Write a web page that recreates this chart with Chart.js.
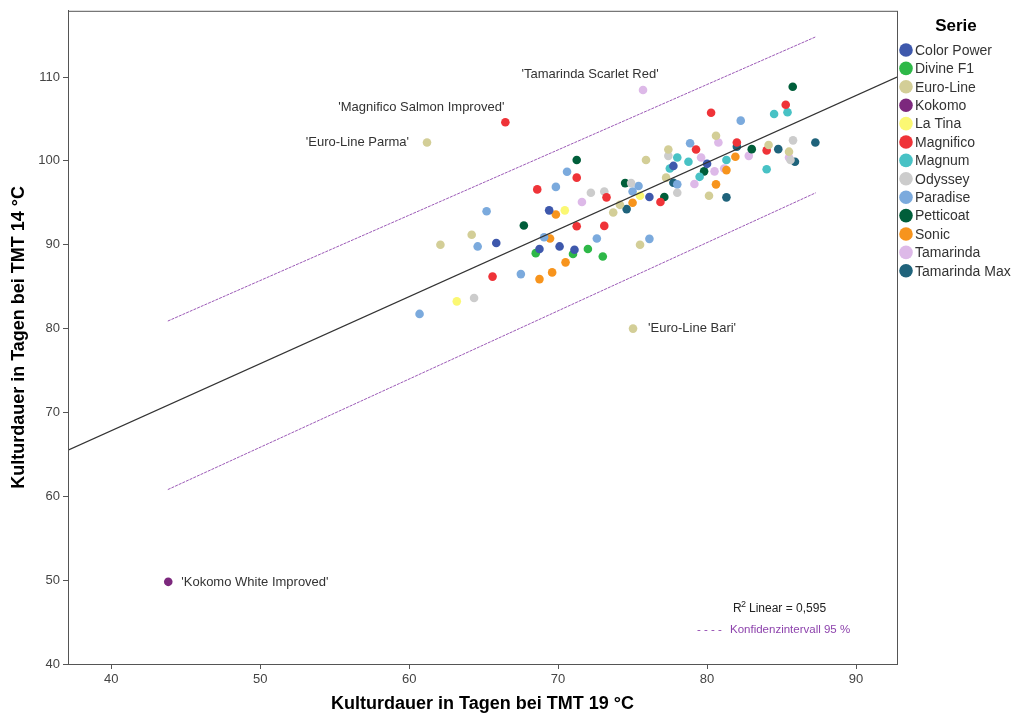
<!DOCTYPE html>
<html lang="de">
<head>
<meta charset="utf-8">
<title>Kulturdauer TMT 19 °C vs. TMT 14 °C</title>
<script src="https://cdn.jsdelivr.net/npm/chart.js@4.4.1/dist/chart.umd.min.js"></script>
<style>
  html, body { margin: 0; padding: 0; background: #fff; }
  #wrap { width: 1015px; height: 715px; }
</style>
</head>
<body>
<div id="wrap"><canvas id="grafico"></canvas></div>
<script>
// === DADOS ===
const serien = ["Color Power", "Divine F1", "Euro-Line", "Kokomo", "La Tina", "Magnifico", "Magnum",
  "Odyssey", "Paradise", "Petticoat", "Sonic", "Tamarinda", "Tamarinda Max"];

const farben = ["#3e58ac", "#2eb848", "#d3ce97", "#7c287d", "#fbf873", "#ef3338", "#48c2c5",
  "#cccccc", "#7baadd", "#005e3a", "#f7941d", "#ddb9e8", "#1f637b"];

// [TMT 19 °C, TMT 14 °C]
const colorPower = [[69.4, 94.1], [65.85, 90.2], [68.75, 89.5], [70.1, 89.8], [71.1, 89.4], [80.0, 99.65], [77.74, 99.4], [76.13, 95.7]];
const divineF1 = [[68.5, 89.0], [71.0, 88.9], [72.0, 89.5], [73.0, 88.6]];
const euroLine = [[61.2, 102.2], [75.03, 80.0], [64.2, 91.2], [62.1, 90.0], [75.5, 90.0], [80.6, 103.0], [84.13, 101.9],
  [85.5, 101.1], [77.4, 101.35], [75.9, 100.1], [77.25, 98.0], [80.13, 95.85], [74.15, 94.76], [73.7, 93.85]];
const kokomo = [[43.83, 49.8]];
const laTina = [[70.45, 94.1], [63.2, 83.25], [75.5, 95.85]];
const magnifico = [[66.46, 104.6], [71.25, 98.0], [68.6, 96.6], [71.25, 92.2], [65.6, 86.2], [73.25, 95.65], [73.1, 92.25],
  [76.87, 95.1], [80.27, 105.75], [82.0, 102.2], [85.28, 106.7], [79.26, 101.35], [84.0, 101.25]];
const magnum = [[84.5, 105.6], [85.4, 105.8], [78.0, 100.4], [78.75, 99.9], [81.3, 100.1], [77.5, 99.1], [79.5, 98.1], [84.0, 99.0]];
const odyssey = [[72.2, 96.2], [64.36, 83.65], [85.77, 102.45], [77.4, 100.6], [78.0, 96.2], [74.9, 97.35], [73.1, 96.35], [85.6, 100.1]];
const paradise = [[70.6, 98.7], [69.85, 96.9], [65.2, 94.0], [64.6, 89.8], [69.06, 90.9], [72.6, 90.75], [67.5, 86.5], [60.7, 81.75],
  [82.26, 104.8], [78.86, 102.1], [78.0, 97.2], [75.4, 97.0], [75.0, 96.35], [76.13, 90.7]];
const petticoat = [[71.25, 100.1], [67.7, 92.3], [85.75, 108.85], [83.0, 101.4], [79.8, 98.75], [74.5, 97.35], [77.13, 95.7]];
const sonic = [[69.85, 93.6], [69.46, 90.75], [70.5, 87.9], [69.6, 86.7], [68.75, 85.9], [81.9, 100.5], [81.3, 98.9], [80.6, 97.2], [75.0, 95.0]];
const tamarinda = [[75.7, 108.45], [71.6, 95.1], [80.76, 102.2], [85.5, 100.4], [79.6, 100.4], [82.8, 100.6], [80.5, 98.75], [81.15, 99.1], [79.15, 97.25]];
const tamarindaMax = [[82.0, 101.7], [87.27, 102.2], [84.78, 101.4], [85.9, 99.9], [77.74, 97.4], [81.3, 95.65], [74.6, 94.25]];

const punkte = [colorPower, divineF1, euroLine, kokomo, laTina, magnifico, magnum, odyssey, paradise, petticoat, sonic, tamarinda, tamarindaMax];

// Regressionsgerade und Konfidenzintervall (Endpunkte aus dem Bild)
const regression = [[37.1, 65.5], [92.75, 110.0]];
const kiOben = [[43.8, 80.9], [87.3, 114.8]];
const kiUnten = [[43.8, 60.8], [87.3, 96.2]];

// Beschriftete Ausreißer: [Serie, Punkt-Index, Text]
const beschriftungen = [
  [11, 0, "'Tamarinda Scarlet Red'"],
  [5, 0, "'Magnifico Salmon Improved'"],
  [2, 0, "'Euro-Line Parma'"],
  [2, 1, "'Euro-Line Bari'"],
  [3, 0, "'Kokomo White Improved'"]
];

const xTicks = [40, 50, 60, 70, 80, 90];
const yTicks = [40, 50, 60, 70, 80, 90, 100, 110];

const schrift = "'Liberation Sans', Arial, sans-serif";
const toXY = arr => arr.map(p => ({ x: p[0], y: p[1] }));

// Rahmen, Beschriftungen, R²-Text und Legende
const extras = {
  id: "extras",
  afterDatasetsDraw(chart) {
    const { ctx, chartArea: a, scales } = chart;
    ctx.save();
    ctx.strokeStyle = "#555";
    ctx.lineWidth = 1;
    ctx.strokeRect(a.left + 0.5, a.top + 0.5, a.right - a.left, a.bottom - a.top);

    // Ausreißer-Texte (Versatz in Pixel zum Punkt)
    const versatz = [[-53, -16, "center"], [-1, -15, "right"], [-18, 0, "right"], [15, 0, "left"], [13, 1, "left"]];
    ctx.font = "13px " + schrift;
    ctx.fillStyle = "#333";
    ctx.textBaseline = "middle";
    beschriftungen.forEach((b, i) => {
      const p = punkte[b[0]][b[1]];
      const px = scales.x.getPixelForValue(p[0]);
      const py = scales.y.getPixelForValue(p[1]);
      ctx.textAlign = versatz[i][2];
      ctx.fillText(b[2], px + versatz[i][0], py + versatz[i][1]);
    });

    // R² und Konfidenzintervall
    ctx.textAlign = "left";
    ctx.fillStyle = "#222";
    ctx.font = "12px " + schrift;
    ctx.fillText("R", 733, 609);
    ctx.font = "9px " + schrift;
    ctx.fillText("2", 741, 605);
    ctx.font = "12px " + schrift;
    ctx.fillText("Linear = 0,595", 749, 609);
    ctx.font = "11.5px " + schrift;
    ctx.fillStyle = "#8e44ad";
    ctx.fillText("- - - -", 697, 630);
    ctx.fillText("Konfidenzintervall 95 %", 730, 630);

    // Legende rechts
    ctx.fillStyle = "#000";
    ctx.textAlign = "center";
    ctx.font = "bold 17px " + schrift;
    ctx.fillText("Serie", 956, 26);
    ctx.textAlign = "left";
    ctx.font = "14px " + schrift;
    serien.forEach((s, i) => {
      const y = 50 + i * 18.4;
      ctx.beginPath();
      ctx.arc(906, y, 6.8, 0, Math.PI * 2);
      ctx.fillStyle = farben[i];
      ctx.fill();
      ctx.fillStyle = "#333";
      ctx.fillText(s, 915, y + 1);
    });
    ctx.restore();
  }
};

document.addEventListener("DOMContentLoaded", () => {
  const linien = [
    { label: "Linear", data: toXY(regression), borderColor: "#333", borderWidth: 1.2, borderDash: [] },
    { label: "KI oben", data: toXY(kiOben), borderColor: "#9b59b6", borderWidth: 1, borderDash: [3, 1] },
    { label: "KI unten", data: toXY(kiUnten), borderColor: "#9b59b6", borderWidth: 1, borderDash: [3, 1] }
  ].map(d => Object.assign(d, { type: "line", pointRadius: 0, fill: false, tension: 0 }));

  const streu = serien.map((s, i) => ({
    type: "scatter",
    label: s,
    data: toXY(punkte[i]),
    backgroundColor: farben[i],
    borderColor: farben[i],
    borderWidth: 0,
    pointRadius: 4.3
  }));

  new Chart(document.getElementById("grafico"), {
    data: { datasets: linien.concat(streu) },
    plugins: [extras],
    options: {
      responsive: true,
      maintainAspectRatio: false,
      animation: false,
      layout: { padding: { top: 7, right: 118, left: 0, bottom: 0 } },
      plugins: { legend: { display: false }, tooltip: { enabled: false } },
      scales: {
        x: {
          type: "linear",
          min: 37.1,
          max: 92.75,
          afterFit: s => { s.height = 51; },
          afterBuildTicks: s => { s.ticks = xTicks.map(v => ({ value: v })); },
          grid: { drawOnChartArea: false, drawTicks: true, tickLength: 5, color: "#555" },
          border: { color: "#555" },
          ticks: { color: "#444", font: { family: schrift, size: 13 }, padding: 3 },
          title: { display: true, text: "Kulturdauer in Tagen bei TMT 19 °C", color: "#000",
            font: { family: schrift, size: 18, weight: "bold" }, padding: { top: 0, bottom: 0 } }
        },
        y: {
          type: "linear",
          min: 40,
          max: 117.9,
          afterFit: s => { s.width = 68; },
          afterBuildTicks: s => { s.ticks = yTicks.map(v => ({ value: v })); },
          grid: { drawOnChartArea: false, drawTicks: true, tickLength: 5, color: "#555" },
          border: { color: "#555" },
          ticks: { color: "#444", font: { family: schrift, size: 13 }, padding: 3 },
          title: { display: true, text: "Kulturdauer in Tagen bei TMT 14 °C", color: "#000",
            font: { family: schrift, size: 18, weight: "bold" }, padding: { top: 8, bottom: 0 } }
        }
      }
    }
  });
});
</script>
</body>
</html>
